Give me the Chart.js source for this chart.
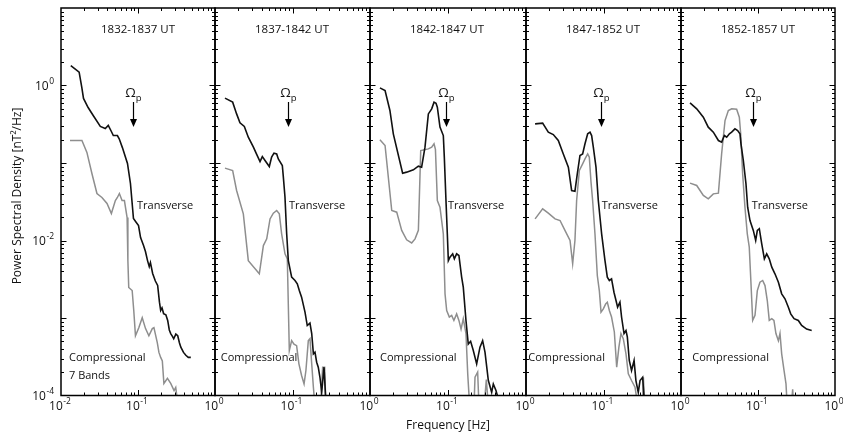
<!DOCTYPE html>
<html>
<head>
<meta charset="utf-8">
<script src="https://cdn.jsdelivr.net/npm/chart.js@4.4.0/dist/chart.umd.min.js"></script>
<style>
  html, body { margin: 0; padding: 0; background: #fff; }
  #wrap { position: relative; width: 843px; height: 435px; overflow: hidden; }
  #wrap canvas { position: absolute; top: 0; }
</style>
</head>
<body>
<div id="wrap"></div>
<script>
// time windows, one per panel
const titles = ["1832-1837 UT", "1837-1842 UT", "1842-1847 UT", "1847-1852 UT", "1852-1857 UT"];
// proton gyrofrequency per panel [Hz]
const omegaP = [0.087, 0.087, 0.094, 0.093, 0.085];
const xTicks = [0.01, 0.1, 1];
const yTicks = [1e-4, 1e-2, 1];

// [frequency Hz, PSD nT^2/Hz]
const trans1 = [[0.0134,1.81],[0.0172,1.49],[0.0186,0.95],[0.0196,0.68],[0.0225,0.52],[0.0262,0.41],[0.0324,0.296],[0.0376,0.279],[0.0411,0.305],[0.0451,0.255],[0.0478,0.226],[0.054,0.226],[0.057,0.205],[0.0627,0.158],[0.073,0.0986],[0.0798,0.0544],[0.0873,0.0192],[0.0935,0.0175],[0.1016,0.0156],[0.108,0.0109],[0.118,0.0086],[0.125,0.0072],[0.133,0.0055],[0.14,0.0046],[0.145,0.0052],[0.155,0.00375],[0.168,0.003],[0.18,0.00263],[0.19,0.0016],[0.197,0.00125],[0.205,0.00135],[0.215,0.00114],[0.23,0.0011],[0.243,0.00093],[0.255,0.0007],[0.266,0.00063],[0.28,0.00058],[0.291,0.00054],[0.31,0.00062],[0.328,0.00059],[0.345,0.00048],[0.36,0.00042],[0.39,0.00036],[0.418,0.00033],[0.45,0.00031],[0.485,0.00031]];
const comp1 = [[0.0131,0.195],[0.0187,0.195],[0.0217,0.137],[0.0252,0.0732],[0.0293,0.0404],[0.034,0.0359],[0.0396,0.03],[0.0451,0.0223],[0.0508,0.0328],[0.054,0.0359],[0.0573,0.0404],[0.0621,0.0328],[0.0666,0.0328],[0.0722,0.0198],[0.0739,0.0055],[0.0758,0.00248],[0.084,0.00226],[0.0881,0.00125],[0.0927,0.00059],[0.1024,0.00075],[0.1135,0.00101],[0.1253,0.00073],[0.1384,0.00059],[0.1534,0.00073],[0.161,0.00075],[0.178,0.00048],[0.187,0.00036],[0.197,0.00031],[0.207,0.00028],[0.217,0.000143],[0.241,0.000166],[0.266,0.000143],[0.294,0.000116],[0.309,0.000127],[0.328,0.00008]];

const trans2 = [[0.01345,0.687],[0.0169,0.61],[0.019,0.43],[0.021,0.33],[0.0239,0.296],[0.0269,0.215],[0.0313,0.16],[0.0345,0.129],[0.0381,0.1045],[0.0408,0.121],[0.0442,0.1077],[0.0502,0.0901],[0.0538,0.119],[0.0577,0.134],[0.0625,0.131],[0.0656,0.113],[0.0739,0.0928],[0.0762,0.0656],[0.08,0.0362],[0.0841,0.0122],[0.0883,0.0055],[0.0975,0.00337],[0.1077,0.00305],[0.1153,0.00276],[0.1224,0.00226],[0.131,0.00186],[0.145,0.00119],[0.155,0.0008],[0.168,0.00086],[0.177,0.00063],[0.186,0.000345],[0.195,0.000362],[0.205,0.000269],[0.215,0.000232],[0.226,0.000172],[0.238,0.00011],[0.255,0.000232],[0.27,0.00008]];
const comp2 = [[0.01345,0.0858],[0.0169,0.08],[0.019,0.0442],[0.0232,0.0221],[0.0269,0.0055],[0.0373,0.00372],[0.0421,0.0086],[0.0465,0.0105],[0.0513,0.019],[0.0566,0.0225],[0.0625,0.0244],[0.0676,0.0221],[0.0724,0.0122],[0.08,0.00673],[0.0857,0.0058],[0.091,0.00038],[0.0975,0.00051],[0.1045,0.00046],[0.113,0.00044],[0.121,0.000256],[0.131,0.000181],[0.141,0.000141],[0.149,0.00021],[0.16,0.00051],[0.168,0.00054],[0.177,0.000256],[0.186,0.000128],[0.195,0.00007],[0.23,0.00007],[0.245,0.000232],[0.26,0.000232],[0.27,0.00007]];

const trans3 = [[0.0134,0.933],[0.0156,0.861],[0.018,0.476],[0.0199,0.238],[0.0262,0.0739],[0.0295,0.0762],[0.036,0.0816],[0.0417,0.091],[0.0459,0.0883],[0.0507,0.16],[0.056,0.43],[0.0618,0.5],[0.0662,0.61],[0.0702,0.59],[0.073,0.525],[0.0789,0.29],[0.0871,0.226],[0.0897,0.119],[0.0942,0.0328],[0.098,0.0122],[0.101,0.0055],[0.106,0.0061],[0.1148,0.00673],[0.1206,0.0058],[0.129,0.00673],[0.138,0.0064],[0.1496,0.00337],[0.157,0.0025],[0.17,0.00093],[0.182,0.00046],[0.195,0.0005],[0.211,0.00038],[0.233,0.000256],[0.257,0.00042],[0.278,0.00051],[0.298,0.000362],[0.329,0.000156],[0.363,0.00011],[0.381,0.000141],[0.412,0.000116],[0.442,0.00009]];
const comp3 = [[0.0134,0.199],[0.0156,0.168],[0.019,0.0244],[0.022,0.0232],[0.0255,0.0135],[0.0295,0.0102],[0.0342,0.0093],[0.0378,0.0105],[0.0417,0.0135],[0.0447,0.145],[0.056,0.152],[0.0618,0.16],[0.0662,0.177],[0.069,0.15],[0.073,0.0328],[0.0789,0.0269],[0.0871,0.0122],[0.0916,0.00205],[0.0962,0.00125],[0.104,0.00103],[0.1114,0.00108],[0.119,0.00093],[0.129,0.00113],[0.138,0.00093],[0.147,0.00072],[0.157,0.00098],[0.17,0.00063],[0.179,0.00019],[0.19,0.00007],[0.215,0.00007],[0.222,0.000172],[0.24,0.0002],[0.25,0.00007],[0.29,0.00007],[0.31,0.00016],[0.33,0.00007]];

const trans4 = [[0.0131,0.32],[0.0164,0.327],[0.0194,0.25],[0.0225,0.233],[0.0261,0.195],[0.0303,0.131],[0.0352,0.0883],[0.0388,0.0442],[0.0428,0.0433],[0.0459,0.0724],[0.0497,0.125],[0.0538,0.131],[0.0577,0.177],[0.0625,0.238],[0.067,0.25],[0.0703,0.226],[0.0739,0.16],[0.08,0.0883],[0.0857,0.0328],[0.0946,0.0122],[0.1045,0.0055],[0.112,0.00337],[0.119,0.00305],[0.127,0.0032],[0.1365,0.00215],[0.145,0.00168],[0.152,0.00138],[0.163,0.0016],[0.171,0.00103],[0.184,0.00063],[0.195,0.00069],[0.203,0.00057],[0.215,0.000283],[0.23,0.00021],[0.248,0.000283],[0.262,0.000156],[0.281,0.00011],[0.296,0.000156],[0.32,0.000172],[0.34,0.00007]];
const comp4 = [[0.0131,0.019],[0.0164,0.0256],[0.0194,0.0225],[0.0237,0.019],[0.0275,0.0181],[0.0318,0.0135],[0.037,0.01],[0.04,0.005],[0.0428,0.01],[0.045,0.0328],[0.0488,0.08],[0.0538,0.0975],[0.0577,0.113],[0.0625,0.131],[0.0656,0.119],[0.069,0.0566],[0.0724,0.0328],[0.0776,0.0122],[0.0832,0.00353],[0.0883,0.00226],[0.0929,0.00119],[0.0995,0.00131],[0.1067,0.00152],[0.112,0.0016],[0.119,0.00125],[0.127,0.00103],[0.138,0.00066],[0.148,0.000232],[0.158,0.00042],[0.168,0.00063],[0.18,0.00054],[0.195,0.000345],[0.209,0.00019],[0.23,0.000156],[0.255,0.000128],[0.28,0.00007],[0.32,0.00007],[0.327,0.000172],[0.34,0.00007]];

const trans5 = [[0.0131,0.598],[0.016,0.5],[0.0195,0.39],[0.0226,0.29],[0.0263,0.25],[0.0306,0.195],[0.0337,0.186],[0.0366,0.226],[0.0392,0.215],[0.0425,0.238],[0.0455,0.25],[0.0502,0.276],[0.0544,0.262],[0.0583,0.238],[0.0601,0.177],[0.0645,0.1077],[0.0698,0.0538],[0.0734,0.0269],[0.0787,0.0181],[0.0869,0.0135],[0.0933,0.01],[0.098,0.0135],[0.104,0.0142],[0.1117,0.0091],[0.121,0.0058],[0.1297,0.00673],[0.14,0.0058],[0.151,0.00453],[0.166,0.00372],[0.184,0.0029],[0.203,0.00205],[0.224,0.00177],[0.248,0.00138],[0.266,0.00113],[0.294,0.00098],[0.334,0.00093],[0.369,0.0008],[0.428,0.00072],[0.498,0.00069]];
const comp5 = [[0.0131,0.055],[0.016,0.0513],[0.0195,0.0381],[0.0226,0.0345],[0.0263,0.04],[0.0306,0.0408],[0.0337,0.131],[0.0373,0.353],[0.0412,0.476],[0.0455,0.5],[0.0528,0.495],[0.0572,0.39],[0.0596,0.238],[0.0632,0.0724],[0.0677,0.0269],[0.0726,0.0122],[0.077,0.0082],[0.0811,0.00276],[0.0853,0.00093],[0.0914,0.00108],[0.098,0.00226],[0.106,0.0029],[0.115,0.00305],[0.1233,0.00262],[0.132,0.00168],[0.14,0.00093],[0.151,0.00098],[0.161,0.00093],[0.171,0.00063],[0.184,0.00051],[0.193,0.00063],[0.203,0.000345],[0.218,0.00021],[0.231,0.000141],[0.24,0.00007],[0.27,0.00007],[0.282,0.00012],[0.29,0.00007]];

const transverse = [trans1, trans2, trans3, trans4, trans5];
const compressional = [comp1, comp2, comp3, comp4, comp5];

// layout (pixels)
const edges = [61, 215, 370, 526, 681, 835];
const TOP = 8, BOTTOM = 395.5, W = 843, H = 435;
const FONT = '"Open Sans", "Noto Sans", sans-serif';
const INK = "#111";
const transLabelX = [76, 74, 78, 75.7, 70.7];
const compLabelX = [8, 5.7, 10, 2.3, 11.3];

function toXY(pairs) {
  return pairs.map(p => ({ x: p[0], y: p[1] }));
}

function expLabel(ctx, exp, x, y, align) {
  ctx.font = "12px " + FONT;
  const w1 = ctx.measureText("10").width;
  ctx.font = "8.5px " + FONT;
  const w2 = ctx.measureText(exp).width;
  const total = w1 + w2 + 0.5;
  const x0 = align === "right" ? x - total : x - total / 2;
  ctx.textAlign = "left";
  ctx.textBaseline = "middle";
  ctx.font = "12px " + FONT;
  ctx.fillText("10", x0, y);
  ctx.font = "8.5px " + FONT;
  ctx.fillText(exp, x0 + w1 + 0.5, y - 5);
}

function framePlugin(i) {
  return {
    id: "frame" + i,
    afterDraw(chart) {
      const ctx = chart.ctx;
      const a = chart.chartArea;
      const xs = chart.scales.x, ys = chart.scales.y;
      ctx.save();

      // inward ticks
      ctx.strokeStyle = "#000";
      ctx.lineWidth = 1;
      ctx.beginPath();
      for (let d = -4; d <= 0; d++) {
        for (let m = 1; m <= 9; m++) {
          const v = m * Math.pow(10, d);
          if (v <= 1e-4) continue;
          const y = Math.round(ys.getPixelForValue(v)) + 0.5;
          const len = m === 1 ? 5.5 : 3;
          ctx.moveTo(a.left, y); ctx.lineTo(a.left + len, y);
          ctx.moveTo(a.right, y); ctx.lineTo(a.right - len, y);
        }
      }
      for (let d = -2; d <= -1; d++) {
        for (let m = 1; m <= 9; m++) {
          const v = m * Math.pow(10, d);
          if (v <= 0.01) continue;
          const x = Math.round(xs.getPixelForValue(v)) + 0.5;
          const len = m === 1 ? 5.5 : 3;
          ctx.moveTo(x, a.bottom); ctx.lineTo(x, a.bottom - len);
          ctx.moveTo(x, a.top); ctx.lineTo(x, a.top + len);
        }
      }
      ctx.stroke();

      // frame
      ctx.lineWidth = 1.5;
      ctx.strokeRect(a.left, a.top, a.right - a.left, a.bottom - a.top);

      ctx.fillStyle = INK;
      // x tick labels
      xTicks.forEach(v => {
        if (i > 0 && v === 0.01) return;
        const exp = v === 0.01 ? "-2" : v === 0.1 ? "-1" : "0";
        expLabel(ctx, exp, xs.getPixelForValue(v) - 1, 407, "center");
      });
      // y tick labels
      if (i === 0) {
        yTicks.forEach(v => {
          const exp = v === 1 ? "0" : String(Math.round(Math.log10(v)));
          expLabel(ctx, exp, 54, ys.getPixelForValue(v) + 1.5, "right");
        });
        ctx.save();
        ctx.translate(18, 196);
        ctx.rotate(-Math.PI / 2);
        ctx.font = "12px " + FONT;
        ctx.textAlign = "center";
        ctx.textBaseline = "middle";
        ctx.fillText("Power Spectral Density [nT\u00B2/Hz]", 0, 0);
        ctx.restore();
      }
      if (i === 2) {
        ctx.font = "12px " + FONT;
        ctx.textAlign = "center";
        ctx.textBaseline = "middle";
        ctx.fillText("Frequency [Hz]", (a.left + a.right) / 2, 426);
      }
      if (i === 4) {
        ctx.font = "11px " + FONT;
        ctx.textAlign = "right";
        ctx.textBaseline = "middle";
        ctx.fillText("February 2, 2014  T98", 823, 426);
      }

      // panel title
      ctx.font = "11.5px " + FONT;
      ctx.textAlign = "center";
      ctx.textBaseline = "middle";
      ctx.fillText(titles[i], a.left + 77, 30);

      // Omega_p marker
      const ax = Math.round(xs.getPixelForValue(omegaP[i])) + 0.5;
      ctx.font = "13.5px " + FONT;
      const wO = ctx.measureText("\u03A9").width;
      ctx.font = "9.5px " + FONT;
      const wp = ctx.measureText("p").width;
      const ox = ax - (wO + wp) / 2;
      ctx.textAlign = "left";
      ctx.font = "13.5px " + FONT;
      ctx.fillText("\u03A9", ox, 93);
      ctx.font = "9.5px " + FONT;
      ctx.fillText("p", ox + wO, 98);
      ctx.strokeStyle = "#000";
      ctx.lineWidth = 1.2;
      ctx.beginPath();
      ctx.moveTo(ax, 102); ctx.lineTo(ax, 121);
      ctx.stroke();
      ctx.fillStyle = "#000";
      ctx.beginPath();
      ctx.moveTo(ax - 3.5, 119); ctx.lineTo(ax + 3.5, 119); ctx.lineTo(ax, 127);
      ctx.closePath();
      ctx.fill();

      // curve labels
      ctx.fillStyle = INK;
      ctx.font = "11px " + FONT;
      ctx.textAlign = "left";
      ctx.fillText("Transverse", a.left + transLabelX[i], 206);
      ctx.fillText("Compressional", a.left + compLabelX[i], 357.5);
      if (i === 0) ctx.fillText("7 Bands", a.left + compLabelX[i], 376);

      ctx.restore();
    }
  };
}

const wrap = document.getElementById("wrap");

function makePanel(i) {
  const left = i === 0 ? 0 : edges[i] - 20;
  const right = i === 4 ? W : edges[i + 1] + 20;
  const canvas = document.createElement("canvas");
  canvas.width = right - left;
  canvas.height = H;
  canvas.style.left = left + "px";
  canvas.style.width = (right - left) + "px";
  canvas.style.height = H + "px";
  wrap.appendChild(canvas);

  new Chart(canvas, {
    type: "line",
    data: {
      datasets: [
        { label: "Transverse", data: toXY(transverse[i]), borderColor: "#111", borderWidth: 1.6, pointRadius: 0, tension: 0 },
        { label: "Compressional", data: toXY(compressional[i]), borderColor: "#8e8e8e", borderWidth: 1.5, pointRadius: 0, tension: 0 }
      ]
    },
    options: {
      responsive: false,
      animation: false,
      devicePixelRatio: 1,
      events: [],
      layout: { padding: { left: edges[i] - left, right: right - edges[i + 1], top: TOP, bottom: H - BOTTOM } },
      plugins: { legend: { display: false }, tooltip: { enabled: false } },
      scales: {
        x: { type: "logarithmic", min: 0.01, max: 1, display: false },
        y: { type: "logarithmic", min: 1e-4, max: 10, display: false }
      }
    },
    plugins: [framePlugin(i)]
  });
}

for (let i = 0; i < 5; i++) makePanel(i);
</script>
</body>
</html>
